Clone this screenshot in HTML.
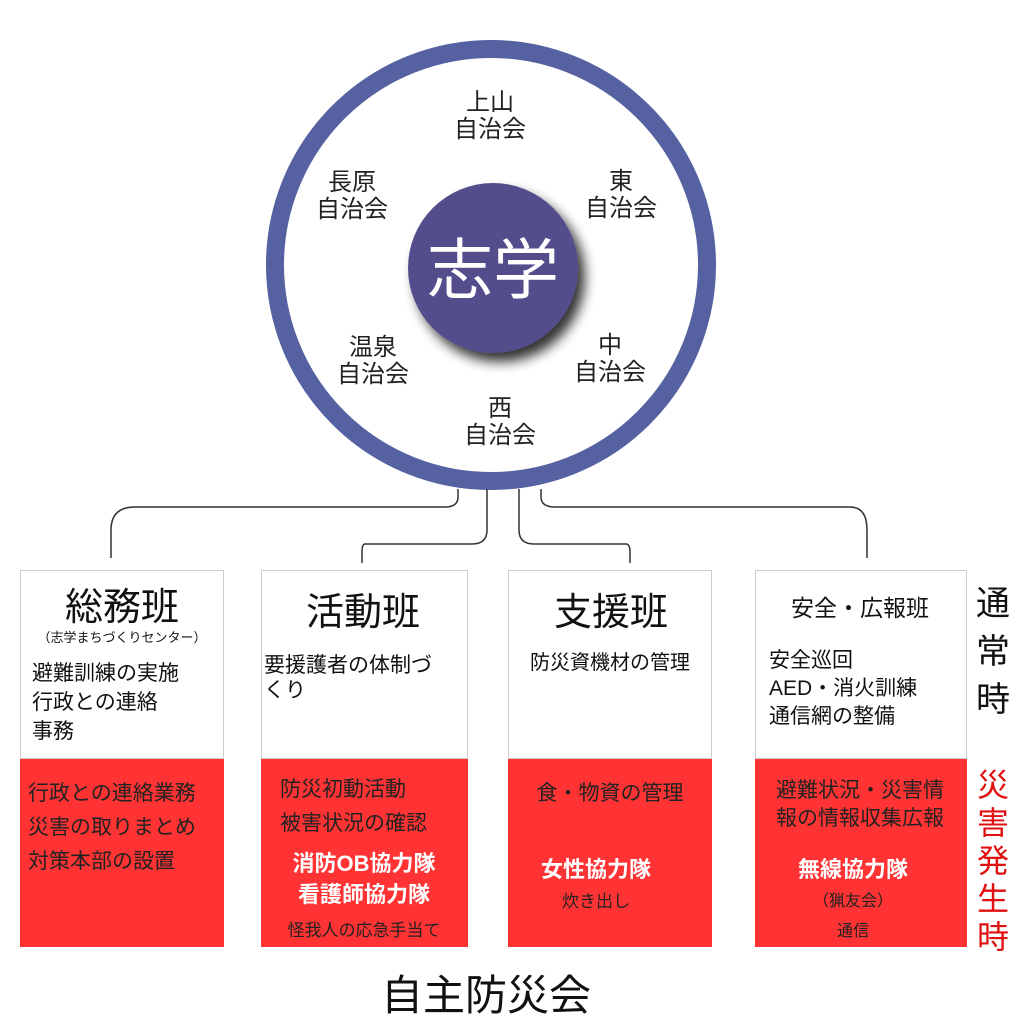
<!DOCTYPE html>
<html><head><meta charset="utf-8"><style>
body{margin:0;background:#fff;}
svg text{font-family:"Liberation Sans","Noto Sans CJK JP",sans-serif;}
</style></head><body>
<svg width="1024" height="1024" viewBox="0 0 1024 1024" xmlns="http://www.w3.org/2000/svg">
<defs>
<filter id="sh" x="-30%" y="-30%" width="160%" height="160%"><feGaussianBlur in="SourceAlpha" stdDeviation="6"/><feOffset dx="7" dy="9"/><feComponentTransfer><feFuncA type="linear" slope="0.8"/></feComponentTransfer><feMerge><feMergeNode/><feMergeNode in="SourceGraphic"/></feMerge></filter>
</defs>
<rect width="1024" height="1024" fill="#fff"/>
<circle cx="491" cy="265" r="216" fill="#fff" stroke="#5561a0" stroke-width="18"/>
<circle cx="493" cy="268" r="85" fill="#534e8c" filter="url(#sh)"/>
<text x="493" y="293" font-size="66" fill="#fff" text-anchor="middle">志学</text>
<g font-size="24" fill="#222" text-anchor="middle">
<text x="490" y="110">上山</text><text x="490" y="137">自治会</text>
<text x="352" y="190">長原</text><text x="352" y="217">自治会</text>
<text x="621" y="189">東</text><text x="621" y="216">自治会</text>
<text x="373" y="355">温泉</text><text x="373" y="382">自治会</text>
<text x="610" y="353">中</text><text x="610" y="380">自治会</text>
<text x="500" y="416">西</text><text x="500" y="443">自治会</text>
</g>
<g fill="none" stroke="#333" stroke-width="1.5">
<path d="M458 489 V497 Q458 507 445 507 H135 Q111 507 111 530 V558"/>
<path d="M487 489 V530 Q487 544 472 544 H365 Q362 544 362 552 V563"/>
<path d="M519 489 V530 Q519 544 534 544 H626 Q630 544 630 552 V563"/>
<path d="M541 489 V497 Q541 507 555 507 H850 Q867 507 867 530 V558"/>
</g>
<g stroke="#ccc" stroke-width="1" fill="#fff">
<rect x="20.5" y="570.5" width="203" height="188"/>
<rect x="261.5" y="570.5" width="206" height="188"/>
<rect x="508.5" y="570.5" width="203" height="188"/>
<rect x="755.5" y="570.5" width="211" height="188"/>
</g>
<g fill="#ff3333">
<rect x="20" y="759" width="204" height="188"/>
<rect x="261" y="759" width="207" height="188"/>
<rect x="508" y="759" width="204" height="188"/>
<rect x="755" y="759" width="212" height="188"/>
</g>
<g fill="#111">
<text x="122" y="620" font-size="38" text-anchor="middle">総務班</text>
<text x="122" y="642" font-size="13" text-anchor="middle">（志学まちづくりセンター）</text>
<text x="32" y="680" font-size="21">避難訓練の実施</text>
<text x="32" y="709" font-size="21">行政との連絡</text>
<text x="32" y="738" font-size="21">事務</text>
<text x="363" y="625" font-size="38" text-anchor="middle">活動班</text>
<text x="264" y="672" font-size="21">要援護者の体制づ</text>
<text x="264" y="697" font-size="21">くり</text>
<text x="611" y="625" font-size="38" text-anchor="middle">支援班</text>
<text x="610" y="669" font-size="20" text-anchor="middle">防災資機材の管理</text>
<text x="860" y="616" font-size="23" text-anchor="middle">安全・広報班</text>
<text x="769" y="667" font-size="21">安全巡回</text>
<text x="769" y="695" font-size="21">AED・消火訓練</text>
<text x="769" y="723" font-size="21">通信網の整備</text>
<text x="993" y="615" font-size="34" text-anchor="middle">通</text>
<text x="993" y="663" font-size="34" text-anchor="middle">常</text>
<text x="993" y="711" font-size="34" text-anchor="middle">時</text>
</g>
<g fill="#222" font-size="21">
<text x="28" y="800">行政との連絡業務</text>
<text x="28" y="834">災害の取りまとめ</text>
<text x="28" y="868">対策本部の設置</text>
<text x="280" y="796">防災初動活動</text>
<text x="280" y="830">被害状況の確認</text>
<text x="610" y="800" text-anchor="middle">食・物資の管理</text>
<text x="860" y="797" text-anchor="middle">避難状況・災害情</text>
<text x="860" y="825" text-anchor="middle">報の情報収集広報</text>
</g>
<g fill="#fff" font-size="22" text-anchor="middle" font-weight="bold">
<text x="364" y="871">消防OB協力隊</text>
<text x="364" y="902">看護師協力隊</text>
<text x="596" y="877">女性協力隊</text>
<text x="853" y="877">無線協力隊</text>
</g>
<g fill="#222" text-anchor="middle">
<text x="364" y="936" font-size="17">怪我人の応急手当て</text>
<text x="596" y="907" font-size="17">炊き出し</text>
<text x="853" y="906" font-size="16">（猟友会）</text>
<text x="853" y="936" font-size="16">通信</text>
</g>
<g fill="#e01010" font-size="32" text-anchor="middle">
<text x="993" y="796">災</text>
<text x="993" y="834">害</text>
<text x="993" y="872">発</text>
<text x="993" y="910">生</text>
<text x="993" y="948">時</text>
</g>
<text x="486" y="1010" font-size="42" fill="#111" text-anchor="middle">自主防災会</text>
</svg>
</body></html>
